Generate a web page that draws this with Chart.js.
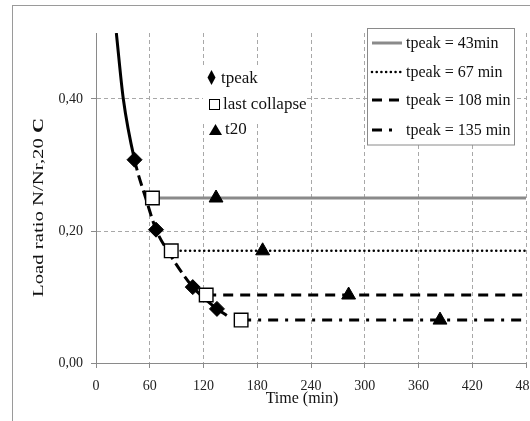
<!DOCTYPE html>
<html><head><meta charset="utf-8">
<script src="https://cdn.jsdelivr.net/npm/chart.js@4/dist/chart.umd.min.js"></script>
<style>html,body{margin:0;padding:0;background:#fff;}#wrap{width:530px;height:421px;}</style>
</head><body><div id="wrap"><canvas id="c" width="530" height="421"></canvas></div>
<script>
// ---- data ----
const xTicks = [0, 60, 120, 180, 240, 300, 360, 420, 480];
const yTicks = [0, 0.2, 0.4];
const curveTime  = [22.7, 30.5, 43, 55.5, 67, 80, 108, 116, 135, 146];
const curveRatio = [0.50, 0.40, 0.308, 0.25, 0.202, 0.17, 0.115, 0.104, 0.082, 0.072];
const tpeakTime  = [43, 67, 108, 135];
const tpeakRatio = [0.308, 0.202, 0.115, 0.082];
const collapseTime  = [63, 84, 123, 162];
const collapseRatio = [0.25, 0.17, 0.103, 0.065];
const t20Time  = [134, 186, 282, 384];
const t20Ratio = [0.25, 0.17, 0.103, 0.065];
const lineEnd = 480;
const lineLabels = ['tpeak = 43min', 'tpeak = 67 min', 'tpeak = 108 min', 'tpeak = 135 min'];
const markerLabels = ['tpeak', 'last collapse', 't20'];
const xTitle = 'Time (min)';
const yTitleParts = ['Load ratio N/Nr,20 ', 'C'];

// ---- styles ----
const FONT = '"Liberation Serif", "Times New Roman", serif';
const lineStyles = [
  {color: '#8a8a8a', width: 3,   dash: [],          cap: 'butt',  sample: 30},
  {color: '#000',    width: 2.6, dash: [0.01, 4.7], cap: 'round', sample: 30},
  {color: '#000',    width: 3,   dash: [10, 7],     cap: 'butt',  sample: 30},
  {color: '#000',    width: 3,   dash: [10, 7, 3, 7], cap: 'butt', sample: 21}
];
const pts = (xs, ys) => xs.map((x, i) => ({x, y: ys[i]}));

const datasets = [
  {label: markerLabels[0], data: pts(tpeakTime, tpeakRatio), pointStyle: 'rectRot', pointRadius: 7.5,
   backgroundColor: '#000', borderColor: '#000', borderWidth: 1, showLine: false, order: 0},
  {label: markerLabels[1], data: pts(collapseTime, collapseRatio), pointStyle: 'rect', pointRadius: 9.6,
   backgroundColor: '#fff', borderColor: '#000', borderWidth: 1.4, showLine: false, order: 0},
  {label: markerLabels[2], data: pts(t20Time, t20Ratio), pointStyle: 'triangle', pointRadius: 8,
   backgroundColor: '#000', borderColor: '#000', borderWidth: 1, showLine: false, order: 0}
];
lineLabels.forEach((lab, i) => {
  const s = lineStyles[i];
  datasets.push({label: lab, data: [{x: collapseTime[i], y: collapseRatio[i]}, {x: lineEnd, y: collapseRatio[i]}],
    showLine: true, pointRadius: 0, borderColor: s.color, borderWidth: s.width, borderDash: s.dash,
    borderCapStyle: s.cap, fill: false, order: 1});
});
datasets.push({label: 'curve', data: pts(curveTime, curveRatio), showLine: true, pointRadius: 0,
  borderColor: '#000', borderWidth: 3, cubicInterpolationMode: 'monotone', fill: false, order: 2,
  segment: {borderDash: ctx => ctx.p0.parsed.x >= tpeakTime[0] - 0.5 ? [11, 5] : []}});

const framePlugin = {
  id: 'frame',
  beforeDraw(chart) {
    const c = chart.ctx; c.save();
    c.fillStyle = '#fff'; c.fillRect(0, 0, chart.width, chart.height);
    c.strokeStyle = '#9a9a9a'; c.lineWidth = 1; c.strokeRect(12.5, 5.5, 1000, 1000);
    c.restore();
  }
};

const decoPlugin = {
  id: 'deco',
  afterDraw(chart) {
    const c = chart.ctx;
    c.save();
    // axis titles
    c.fillStyle = '#111';
    c.font = '16px ' + FONT; c.textAlign = 'center'; c.textBaseline = 'alphabetic';
    c.fillText(xTitle, 302, 403);
    c.save();
    c.translate(42.5, 207.5); c.rotate(-Math.PI / 2);
    c.font = '15px ' + FONT; const w0 = c.measureText(yTitleParts[0]).width;
    c.font = 'bold 15px ' + FONT; const w1 = c.measureText(yTitleParts[1]).width;
    const sx = 179 / (w0 + w1);
    c.scale(sx, 1); c.textAlign = 'left';
    const start = -(w0 + w1) / 2;
    c.font = '15px ' + FONT; c.fillText(yTitleParts[0], start, 0);
    c.font = 'bold 15px ' + FONT; c.fillText(yTitleParts[1], start + w0, 0);
    c.restore();

    // main line legend
    c.fillStyle = '#fff'; c.fillRect(367.5, 28.5, 147, 116.5);
    c.strokeStyle = '#8a8a8a'; c.lineWidth = 1; c.strokeRect(367.5, 28.5, 147, 116.5);
    const rows = [43, 72, 100, 130];
    lineLabels.forEach((lab, i) => {
      const s = lineStyles[i];
      c.save();
      c.strokeStyle = s.color; c.lineWidth = s.width; c.setLineDash(s.dash); c.lineCap = s.cap;
      c.beginPath(); c.moveTo(372, rows[i]); c.lineTo(372 + s.sample, rows[i]); c.stroke();
      c.restore();
      c.fillStyle = '#111'; c.font = '16px ' + FONT; c.textAlign = 'left'; c.textBaseline = 'middle';
      c.fillText(lab, 406, rows[i] + 1);
    });

    // marker legend
    c.fillStyle = '#fff'; c.fillRect(203, 66, 103, 55);
    c.fillStyle = '#000';
    c.beginPath(); c.moveTo(211.5, 70); c.lineTo(215.5, 77.5); c.lineTo(211.5, 85); c.lineTo(207.5, 77.5); c.closePath(); c.fill();
    c.fillStyle = '#fff'; c.strokeStyle = '#000'; c.lineWidth = 1;
    c.fillRect(209.5, 99.5, 10, 10); c.strokeRect(209.5, 99.5, 10, 10);
    c.fillStyle = '#000';
    c.beginPath(); c.moveTo(215.5, 124); c.lineTo(222, 135); c.lineTo(209, 135); c.closePath(); c.fill();
    c.fillStyle = '#111'; c.font = '17px ' + FONT; c.textAlign = 'left'; c.textBaseline = 'middle';
    c.fillText(markerLabels[0], 221, 79);
    c.fillText(markerLabels[1], 223, 105);
    c.fillText(markerLabels[2], 225, 130);
    c.restore();
  }
};

const noPad = () => ({left: 0, top: 0, right: 0, bottom: 0});

new Chart(document.getElementById('c'), {
  type: 'scatter',
  data: {datasets},
  plugins: [framePlugin, decoPlugin],
  options: {
    responsive: false, animation: false, devicePixelRatio: 1,
    layout: {autoPadding: false, padding: {top: 33, right: 4, left: 0, bottom: 0}},
    plugins: {legend: {display: false}, tooltip: {enabled: false}},
    scales: {
      x: {
        type: 'linear', min: 0, max: 480,
        afterBuildTicks: s => { s.ticks = xTicks.map(v => ({value: v})); },
        afterFit: s => { s.height = 58; s.paddingLeft = 0; s.paddingRight = 0; s.getPadding = noPad; },
        ticks: {font: {family: FONT, size: 14}, color: '#222', padding: 10, maxRotation: 0, autoSkip: false,
                callback: v => String(v)},
        grid: {color: '#a8a8a8', lineWidth: 1, tickLength: 5, tickColor: '#8a8a8a', tickBorderDash: []},
        border: {display: true, color: '#8a8a8a', width: 1, dash: [4, 3]}
      },
      y: {
        type: 'linear', min: 0, max: 0.5,
        afterBuildTicks: s => { s.ticks = yTicks.map(v => ({value: v})); },
        afterFit: s => { s.width = 96; s.paddingTop = 0; s.paddingBottom = 0; s.getPadding = noPad; },
        ticks: {font: {family: FONT, size: 14}, color: '#222', padding: 8,
                callback: v => v.toFixed(2).replace('.', ',')},
        grid: {color: '#a8a8a8', lineWidth: 1, tickLength: 5, tickColor: '#8a8a8a', tickBorderDash: []},
        border: {display: true, color: '#8a8a8a', width: 1, dash: [4, 3]}
      }
    }
  }
});
</script></body></html>
